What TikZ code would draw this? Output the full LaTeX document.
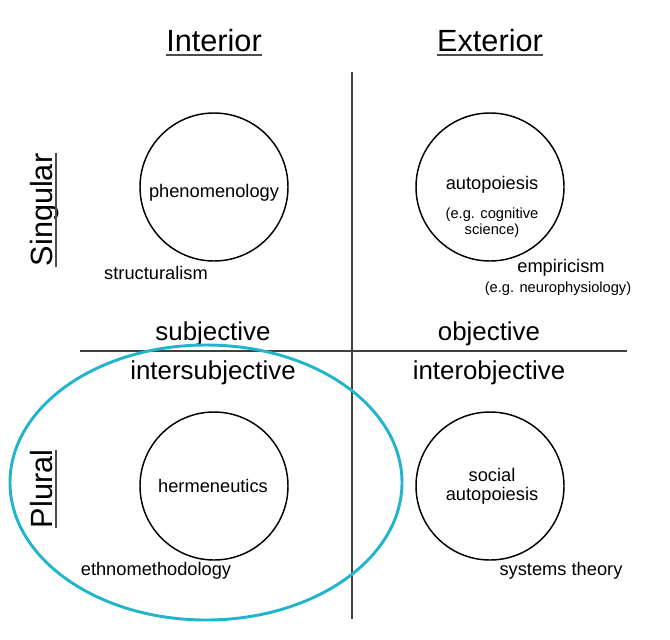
\documentclass[tikz,border=0pt]{standalone}
\usepackage{fontspec}
\setmainfont{Liberation Sans}
\usepackage{tikz}
\usetikzlibrary{calc,positioning}
\definecolor{plcyan}{RGB}{32,181,204}
\tikzstyle{head}=[inner sep=0pt,font=\fontsize{23}{27}\selectfont]
\tikzstyle{axis}=[inner sep=0pt,font=\fontsize{19.4}{23}\selectfont]
\tikzstyle{lbl}=[inner sep=0pt,align=center,font=\fontsize{13.7}{14.3}\selectfont]
\tikzstyle{sml}=[inner sep=0pt,align=center,font=\fontsize{11}{12}\selectfont]
\tikzstyle{ring}=[draw,circle,line width=1.1pt,minimum size=111pt,inner sep=0pt]
\tikzstyle{uline}=[line width=1.3pt,black!70]

\begin{document}
\begin{tikzpicture}[x=0.75pt,y=-0.75pt]
    \useasboundingbox (0,0) rectangle (670,639);

    % quadrant lines
    \coordinate (top) at (352,72);
    \coordinate (bot) at (352,619);
    \coordinate (lft) at (80,351);
    \coordinate (rgt) at (627,351);
    \draw[line width=1.5pt,black!75] (top) -- (bot);
    \draw[line width=1.5pt,black!75] (lft) -- (rgt);

    % headings
    \node [head,anchor=base] (intr) at (214,51) {Interior};
    \node [head,anchor=base] (extr) at (490,51) {Exterior};
    \node [head,anchor=base,rotate=90] (sing) at (52,210) {Singular};
    \node [head,anchor=base,rotate=90] (plur) at (52,489) {Plural};
      \draw[uline] ([yshift=-3pt]intr.base west) -- ([yshift=-3pt]intr.base east);
      \draw[uline] ([yshift=-3pt]extr.base west) -- ([yshift=-3pt]extr.base east);
      \draw[uline] ([xshift=3pt]sing.base west) -- ([xshift=3pt]sing.base east);
      \draw[uline] ([xshift=3pt]plur.base west) -- ([xshift=3pt]plur.base east);

    % axis labels
    \node [axis,anchor=base] (subj)  at (213,340) {subjective};
    \node [axis,anchor=base] (obj)   at (489,340) {objective};
    \node [axis,anchor=base] (isubj) at (213,379) {intersubjective};
    \node [axis,anchor=base] (iobj)  at (489,379) {interobjective};

    % circles
    \node [ring] (phen) at (214,187) {};
    \node [ring] (auto) at (490,187) {};
    \node [ring] (herm) at (214,486) {};
    \node [ring] (soc)  at (490,486) {};

    \node [lbl,anchor=base] (phent)  at (214,197) {phenomenology};
    \node [lbl,anchor=base] (autot)  at (492,189) {autopoiesis};
    \node [sml] (cogn) at (492,223) {(e.g. cognitive\\science)};
    \node [lbl,anchor=base] (hermt)  at (213,492) {hermeneutics};
    \node [lbl] (soct) at (492,486) {social\\autopoiesis};

    % outside labels
    \node [lbl,anchor=base] (struc) at (156,279) {structuralism};
    \node [lbl,anchor=base] (empi)  at (561,272) {empiricism};
    \node [sml,anchor=base] (neuro) at (558,292) {(e.g. neurophysiology)};
    \node [lbl,anchor=base] (ethno) at (156,575) {ethnomethodology};
    \node [lbl,anchor=base] (syst)  at (561,575) {systems theory};

    % plural group
    \draw[plcyan,line width=2.2pt] (206,482.5) ellipse [x radius=196,y radius=137.5];
\end{tikzpicture}
\end{document}
